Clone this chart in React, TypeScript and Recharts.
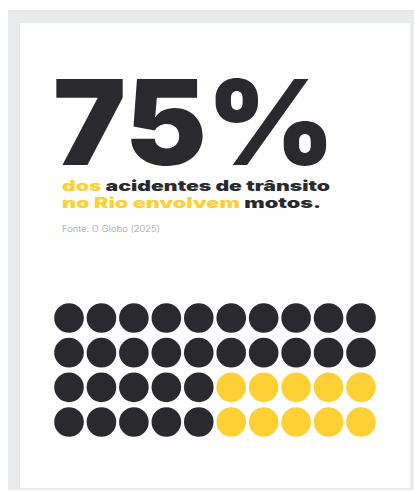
import React from 'react'
import { ScatterChart, Scatter, XAxis, YAxis } from 'recharts'

// 4 linhas x 10 colunas: 1 = moto, 0 = outros
const gridRows = [
  [1, 1, 1, 1, 1, 1, 1, 1, 1, 1],
  [1, 1, 1, 1, 1, 1, 1, 1, 1, 1],
  [1, 1, 1, 1, 1, 0, 0, 0, 0, 0],
  [1, 1, 1, 1, 1, 0, 0, 0, 0, 0],
]
const headline = '75%'
const line1 = [
  { text: 'dos ', accent: true },
  { text: 'acidentes de trânsito', accent: false },
]
const line2 = [
  { text: 'no Rio envolvem ', accent: true },
  { text: 'motos.', accent: false },
]
const source = 'Fonte: O Globo (2025)'

const DARK = '#2a2a2e'
const YELLOW = '#fdd035'

const cells = gridRows.flatMap((row, r) => row.map((v, c) => ({ col: c, row: r, v })))
const motoCells = cells.filter(d => d.v === 1)
const otherCells = cells.filter(d => d.v === 0)

const dot = (color: string) => (props: any) => (
  <circle cx={props.cx} cy={props.cy} r={14.8} fill={color} />
)

export default function App() {
  const font = 'Inter, Roboto, "Noto Sans", sans-serif'
  return (
    <div style={{ position: 'fixed', left: 0, top: 0, width: 414, height: 492, overflow: 'hidden', background: '#fff' }}>
      <div style={{ position: 'absolute', left: 8, top: 10, width: 406, height: 480, background: '#e9eaea' }} />
      <div style={{ position: 'absolute', left: 20, top: 23, width: 390, height: 465, background: '#fefefe' }} />
      <svg width={414} height={492} style={{ position: 'absolute', left: 0, top: 0 }}>
        <text x={53} y={165} fontFamily={font} fontWeight={900} fontSize={118} fill={DARK}
          textLength={282} lengthAdjust="spacingAndGlyphs">{headline}</text>
        <text x={62} y={191} fontFamily={font} fontWeight={900} fontSize={14.2}
          textLength={268} lengthAdjust="spacingAndGlyphs">
          {line1.map((s, i) => <tspan key={i} fill={s.accent ? YELLOW : DARK}>{s.text}</tspan>)}
        </text>
        <text x={62} y={208} fontFamily={font} fontWeight={900} fontSize={14.2}
          textLength={259} lengthAdjust="spacingAndGlyphs">
          {line2.map((s, i) => <tspan key={i} fill={s.accent ? YELLOW : DARK}>{s.text}</tspan>)}
        </text>
        <text x={62} y={232} fontFamily={font} fontWeight={300} fontSize={8.5} fill="#a0a0a0"
          textLength={98} lengthAdjust="spacingAndGlyphs">{source}</text>
      </svg>
      <div style={{ position: 'absolute', left: 0, top: 0 }}>
        <ScatterChart width={414} height={492} margin={{ left: 69, right: 53, top: 318, bottom: 70 }}>
          <XAxis type="number" dataKey="col" domain={[0, 9]} hide />
          <YAxis type="number" dataKey="row" domain={[0, 3]} reversed hide />
          <Scatter data={motoCells} shape={dot(DARK)} isAnimationActive={false} />
          <Scatter data={otherCells} shape={dot(YELLOW)} isAnimationActive={false} />
        </ScatterChart>
      </div>
    </div>
  )
}
